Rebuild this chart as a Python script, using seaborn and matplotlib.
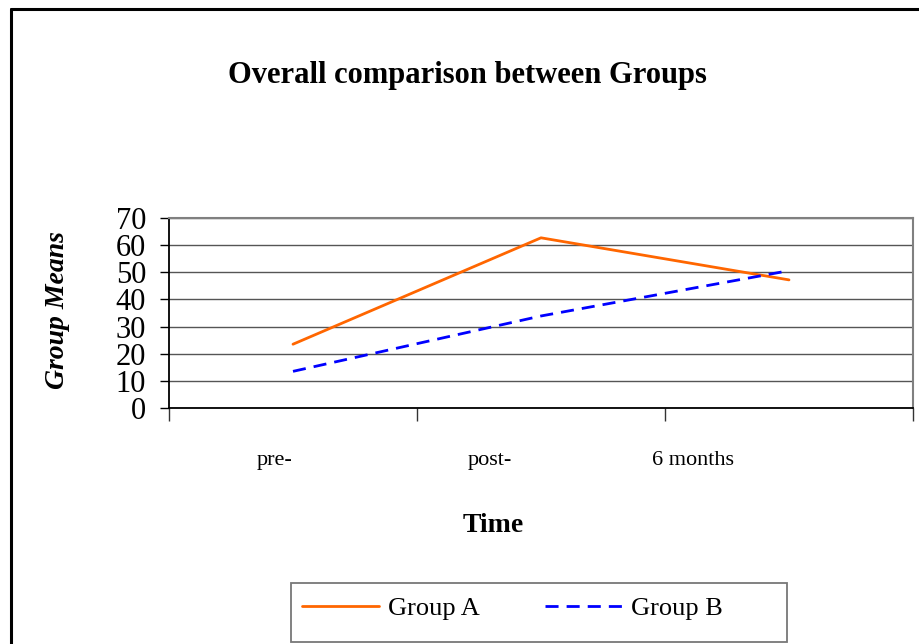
import matplotlib
matplotlib.use("Agg")
import matplotlib.pyplot as plt
import matplotlib.transforms as mtransforms
from matplotlib.lines import Line2D
from matplotlib.patches import Rectangle
import seaborn as sns
import pandas as pd

# ---- data ----
categories = ["pre-", "post-", "6 months"]
groups = ["Group A", "Group B"]
group_a = [23.5, 62.7, 47.2]
group_b = [13.5, 33.9, 50.6]
y_ticks = [0, 10, 20, 30, 40, 50, 60, 70]

df = pd.DataFrame({
    "pos": list(range(len(categories))) * 2,
    "Time": categories * 2,
    "Group": [groups[0]] * 3 + [groups[1]] * 3,
    "Mean": group_a + group_b,
})

sns.set_theme(style="white")
plt.rcParams["font.family"] = ["Liberation Serif", "DejaVu Serif"]
plt.rcParams["text.color"] = "black"
plt.rcParams["axes.labelcolor"] = "black"
plt.rcParams["xtick.color"] = "black"
plt.rcParams["ytick.color"] = "black"

fig = plt.figure(figsize=(9.2, 6.44), dpi=100)
W, H = 920, 644
ax = fig.add_axes([169 / W, 1 - 408 / H, (913 - 169) / W, (408 - 218) / H])
ax.set_facecolor("white")

sns.lineplot(data=df, x="pos", y="Mean", hue="Group", style="Group",
             palette={"Group A": "#FF6600", "Group B": "#0000FF"},
             dashes={"Group A": "", "Group B": (4.7, 2.9)},
             linewidth=2, ax=ax, legend=False)

ax.set_xlim(-0.5, len(categories) - 0.5)
ax.set_ylim(0, 70)
ax.set_yticks(y_ticks)
ax.set_yticklabels([str(v) for v in y_ticks])
ax.tick_params(axis="y", which="major", direction="out", length=6.5, width=1,
               color="black", labelcolor="black", labelsize=22, pad=10, left=True)

# category boundaries as major ticks, labels as minor ticks
ax.set_xticks([i - 0.5 for i in range(len(categories) + 1)])
ax.set_xticklabels([""] * (len(categories) + 1))
ax.set_xticks(range(len(categories)), minor=True)
ax.set_xticklabels(categories, minor=True)
ax.tick_params(axis="x", which="major", direction="out", length=9, width=1,
               color="#333333", bottom=True)
ax.tick_params(axis="x", which="minor", length=0, labelsize=16, pad=31,
               labelcolor="black")
label_offsets_px = [-18, -51, -96]
for lab, off in zip(ax.get_xticklabels(minor=True), label_offsets_px):
    lab.set_transform(lab.get_transform() +
                      mtransforms.ScaledTranslation(off / 100, 0, fig.dpi_scale_trans))

ax.yaxis.grid(True, color="#555555", linewidth=1)
ax.xaxis.grid(False)
ax.set_axisbelow(True)
for side in ["left", "bottom"]:
    ax.spines[side].set_color("black")
    ax.spines[side].set_linewidth(1.3)
for side in ["top", "right"]:
    ax.spines[side].set_color("#808080")
    ax.spines[side].set_linewidth(1.5)
    ax.spines[side].set_visible(True)

ax.set_xlabel("Time", fontsize=20, fontweight="bold", color="black")
ax.xaxis.set_label_coords((493 - 169) / 744, (408 - 513) / 190)
ax.set_ylabel("Group Means", fontsize=20, fontweight="bold", fontstyle="italic",
              color="black")
ax.yaxis.set_label_coords((70 - 169) / 744, (408 - 310) / 190)

fig.text(467 / W, 1 - 83 / H, "Overall comparison between Groups",
         fontsize=22, fontweight="bold", ha="center", va="baseline", color="black")

leg = ax.legend(handles=ax.lines[:2], labels=groups, ncol=2,
                loc="center left", bbox_to_anchor=(302 / W, 1 - 608 / H),
                bbox_transform=fig.transFigure, fontsize=19,
                frameon=False, handlelength=2.9, handletextpad=0.35,
                columnspacing=2.5, borderpad=0, borderaxespad=0)
for t in leg.get_texts():
    t.set_color("black")

# legend box
fig.add_artist(Rectangle((291 / W, 1 - 642 / H), (787 - 291) / W, (642 - 583) / H,
                         transform=fig.transFigure, fill=False,
                         edgecolor="#777777", linewidth=1.3))

# outer border of the chart area
fig.add_artist(Line2D([11 / W, 1], [1 - 9 / H, 1 - 9 / H], transform=fig.transFigure,
                      color="black", linewidth=2.2))
fig.add_artist(Line2D([11 / W, 11 / W], [0, 1 - 9 / H], transform=fig.transFigure,
                      color="black", linewidth=2.2))

fig.savefig("out.png", dpi=100, facecolor="white")
